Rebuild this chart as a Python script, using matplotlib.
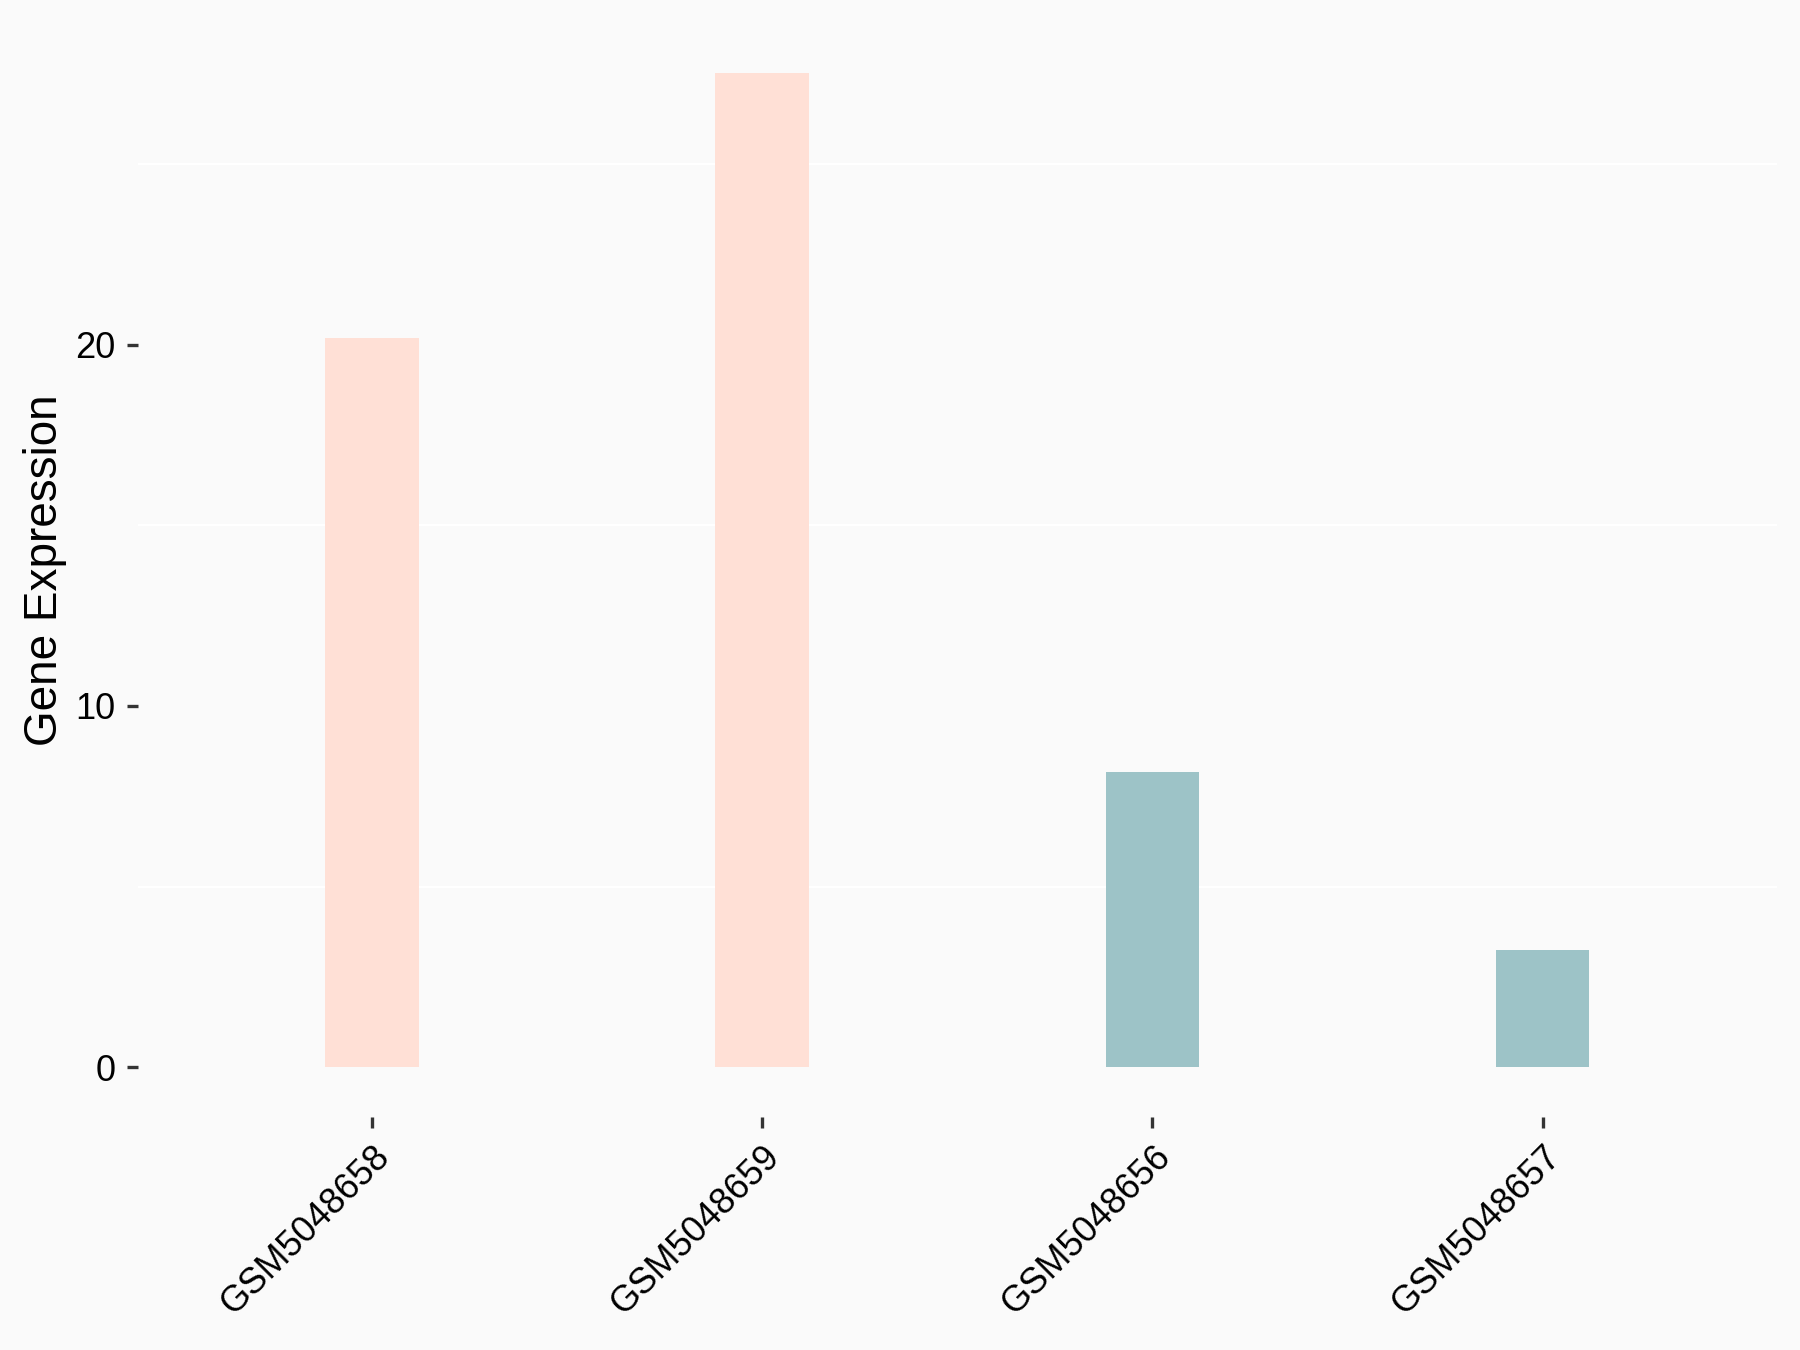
#!/usr/bin/env python3

import matplotlib
matplotlib.use('Agg')
import matplotlib.pyplot as plt

samples = ['GSM5048658', 'GSM5048659', 'GSM5048656', 'GSM5048657']
expression = [20.18, 27.53, 8.17, 3.25]
groups = ['high', 'high', 'low', 'low']
group_colors = {'high': '#FFE0D6', 'low': '#9DC3C7'}

y_ticks = [0, 10, 20]
y_minor = [5, 15, 25]

plt.rcParams['font.family'] = ['Liberation Sans', 'DejaVu Sans']

bg = '#FAFAFA'
fig = plt.figure(figsize=(9, 6.75), dpi=200, facecolor=bg)
ax = fig.add_axes([0.0767, 0.1726, 0.9103, 0.8104], facecolor=bg)

positions = list(range(1, len(samples) + 1))
ax.bar(positions, expression, width=0.24,
       color=[group_colors[g] for g in groups], zorder=2)

ax.set_xlim(0.4, 4.6)
top = max(expression)
ax.set_ylim(-0.05 * top, top * 1.05)

ax.set_yticks(y_ticks)
ax.set_yticks(y_minor, minor=True)
ax.grid(which='minor', axis='y', color='white', linewidth=0.8, zorder=1)
ax.tick_params(axis='y', which='minor', length=0)

ax.set_xticks(positions)
ax.set_xticklabels(samples, rotation=45, ha='right', va='top',
                   rotation_mode='anchor')
ax.tick_params(axis='both', which='major', direction='out', length=4,
               width=1.2, color='#333333', labelsize=13, labelcolor='black',
               pad=4)

for s in ax.spines.values():
    s.set_visible(False)

ax.set_ylabel('Gene Expression', fontsize=16.5, labelpad=3)

fig.savefig('out.png', dpi=200, facecolor=bg)
